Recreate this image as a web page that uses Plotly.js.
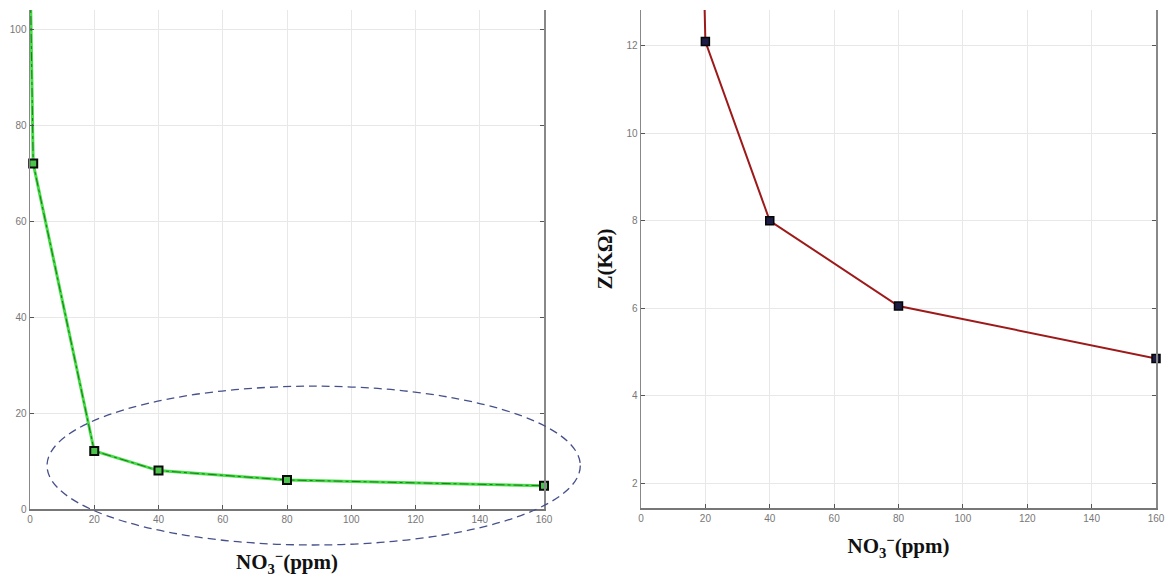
<!DOCTYPE html>
<html>
<head>
<meta charset="utf-8">
<script src="https://cdn.plot.ly/plotly-3.0.1.min.js"></script>
<style>html,body{margin:0;padding:0;background:#fff;}#chart{width:1168px;height:578px;}</style>
</head>
<body>
<div id="chart"></div>
<script>
// Data
const concentration = [0, 1, 20, 40, 80, 160];          // NO3- (ppm)
const impedance = [114, 72, 12.1, 8.0, 6.05, 4.85];      // Z (KΩ)
const xTicks = [0, 20, 40, 60, 80, 100, 120, 140, 160];
const yTicksLeft = [0, 20, 40, 60, 80, 100];
const yTicksRight = [2, 4, 6, 8, 10, 12];
// dashed ellipse highlighting the low region (data units of the left plot)
const ellipseX = [5.3, 171.3];
const ellipseY = [-7.5, 25.6];

const W = 1168, H = 578;
const leftX = [30 / W, 544 / W];
const leftY = [1 - 509 / H, 1 - 10 / H];
const rightX = [641 / W, 1156 / W];
const rightY = [1 - 508 / H, 1 - 10 / H];
const leftXRange = [0, 160], leftYRange = [0, 104];
const rightXRange = [0, 160], rightYRange = [1.43, 12.82];

function toPaper(v, range, dom) {
  return dom[0] + (v - range[0]) / (range[1] - range[0]) * (dom[1] - dom[0]);
}

const tickFont = {family: 'Liberation Sans, Arial, sans-serif', size: 10, color: '#777'};
const titleFont = {family: 'Liberation Serif, serif', size: 21, color: '#111'};
const titleText = '<b>NO<sub>3</sub><sup>−</sup>(ppm)</b>';

function axisX(domain, range, anchor, title, standoff) {
  return {
    domain: domain, range: range, anchor: anchor,
    tickvals: xTicks, ticks: 'inside', ticklen: 4, tickcolor: '#555',
    showline: true, linecolor: '#777', linewidth: 1.5,
    showgrid: true, gridcolor: '#e8e8e8', gridwidth: 1,
    zeroline: false, tickfont: tickFont,
    title: {text: title, font: titleFont, standoff: standoff},
    automargin: false
  };
}
function axisY(domain, range, anchor, ticks, title) {
  return {
    domain: domain, range: range, anchor: anchor,
    tickvals: ticks, ticks: 'inside', ticklen: 4, tickcolor: '#555',
    showline: true, linecolor: '#888', linewidth: 1.5, mirror: 'ticks',
    showgrid: true, gridcolor: '#e8e8e8', gridwidth: 1,
    zeroline: false, tickfont: tickFont,
    title: {text: title, font: titleFont, standoff: 8},
    automargin: false
  };
}

const traces = [
  {x: concentration, y: impedance, xaxis: 'x', yaxis: 'y', mode: 'lines',
   line: {color: '#44dd44', width: 3}, hoverinfo: 'skip', showlegend: false},
  {x: concentration, y: impedance, xaxis: 'x', yaxis: 'y', mode: 'lines+markers',
   line: {color: '#1f7a1f', width: 1, dash: 'dashdot'},
   marker: {symbol: 'square', size: 8, color: '#4cc44c', line: {color: '#0a0a0a', width: 2}},
   cliponaxis: false, showlegend: false},
  {x: concentration, y: impedance, xaxis: 'x2', yaxis: 'y2', mode: 'lines+markers',
   line: {color: '#9e1a1a', width: 2},
   marker: {symbol: 'square', size: 8, color: '#1c1c44', line: {color: '#050505', width: 1.5}},
   cliponaxis: false, showlegend: false}
];

const layout = {
  width: W, height: H,
  margin: {l: 0, r: 0, t: 0, b: 0},
  paper_bgcolor: '#ffffff', plot_bgcolor: 'rgba(0,0,0,0)',
  showlegend: false,
  xaxis: axisX(leftX, leftXRange, 'y', titleText, 31),
  yaxis: axisY(leftY, leftYRange, 'x', yTicksLeft, ''),
  xaxis2: axisX(rightX, rightXRange, 'y2', titleText, 16),
  yaxis2: axisY(rightY, rightYRange, 'x2', yTicksRight, '<b>Z(KΩ)</b>'),
  shapes: [{
    type: 'circle', xref: 'paper', yref: 'paper',
    x0: toPaper(ellipseX[0], leftXRange, leftX), x1: toPaper(ellipseX[1], leftXRange, leftX),
    y0: toPaper(ellipseY[0], leftYRange, leftY), y1: toPaper(ellipseY[1], leftYRange, leftY),
    line: {color: '#46508a', width: 1.3, dash: '8px,5px'}, layer: 'above'
  }]
};

Plotly.newPlot('chart', traces, layout, {displayModeBar: false, staticPlot: true});
</script>
</body>
</html>
